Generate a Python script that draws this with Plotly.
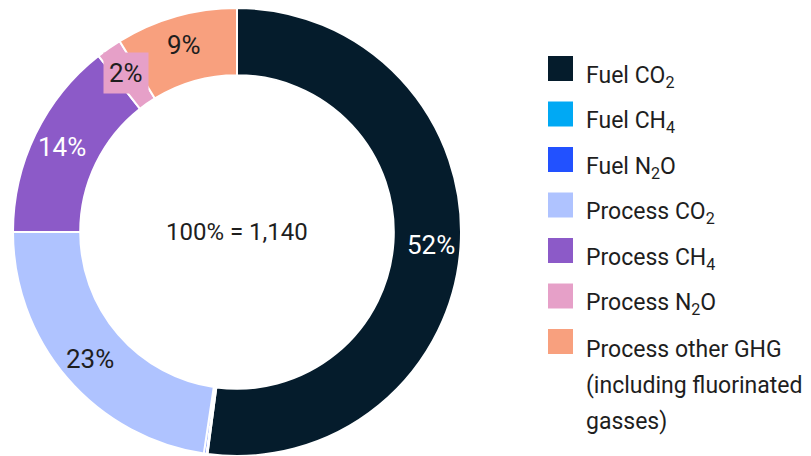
"""Donut com a composição das emissões de GHG (total 1,140)"""

import math
import plotly.graph_objects as go

# Dados
categorias = ["Fuel CO<sub>2</sub>", "Fuel CH<sub>4</sub>", "Fuel N<sub>2</sub>O",
              "Process CO<sub>2</sub>", "Process CH<sub>4</sub>", "Process N<sub>2</sub>O",
              "Process other GHG<br>(including fluorinated<br>gasses)"]
valores = [594, 1, 2, 258, 164, 21, 100]
cores = ["#051c2c", "#00a9f4", "#2251ff", "#afc3ff", "#8c5ac8", "#e6a0c8", "#f8a07e"]
rotulos = ["52%", "", "", "23%", "14%", "2%", "9%"]
cor_rotulo = ["white", None, None, "#1e1e1e", "white", "#1e1e1e", "#1e1e1e"]
total_texto = "100% = 1,140"

# a página html tem margem de 8px no body: a figura ocupa o resto da janela
OFF = 8
W, H = 811 - OFF, 456 - OFF
FONTE = "Roboto"
TXT = "#1e1e1e"


def px(x):
    return (x - OFF) / W


def py(y):
    return 1 - (y - OFF) / H


# geometria do donut (pixels da janela)
cx, cy, R, furo = 237, 232, 224, 0.70

fig = go.Figure(go.Pie(
    labels=categorias,
    values=valores,
    marker=dict(colors=cores, line=dict(color="white", width=2)),
    hole=furo,
    sort=False,
    direction="clockwise",
    rotation=0,
    textinfo="none",
    hoverinfo="label+percent",
    showlegend=False,
    domain=dict(x=[px(cx - R), px(cx + R)], y=[0, 1]),
))

# rótulos de percentagem no meio de cada fatia
total = sum(valores)
acum = 0
r_txt = R * (1 + furo) / 2 + 4
for v, txt, cor, fundo in zip(valores, rotulos, cor_rotulo, cores):
    meio = (acum + v / 2) / total * 2 * math.pi
    acum += v
    if not txt:
        continue
    x_ = cx + r_txt * math.sin(meio)
    y_ = cy - r_txt * math.cos(meio)
    extra = dict(bgcolor=fundo, borderpad=5) if v / total < 0.03 else dict(borderpad=0)
    fig.add_annotation(x=px(x_), y=py(y_), xref="paper", yref="paper",
                       xanchor="center", yanchor="middle",
                       text=txt, showarrow=False,
                       font=dict(family=FONTE, size=26, color=cor), **extra)

# texto central
fig.add_annotation(x=px(cx), y=py(cy), xref="paper", yref="paper",
                   xanchor="center", yanchor="middle",
                   text=total_texto, showarrow=False,
                   font=dict(family=FONTE, size=24, color=TXT))

# legenda manual (quadrados grandes + texto com subscritos)
for i, (nome, cor) in enumerate(zip(categorias, cores)):
    yc = 68.5 + 45.5 * i
    fig.add_shape(type="rect", xref="paper", yref="paper",
                  x0=px(548), x1=px(573), y0=py(yc - 12.5), y1=py(yc + 12.5),
                  fillcolor=cor, line=dict(width=0))
    for j, linha in enumerate(nome.split("<br>")):
        ya = yc + 8 + 36 * j
        fig.add_annotation(x=px(585), y=py(ya), xref="paper", yref="paper",
                           xanchor="left", yanchor="middle", text=linha, showarrow=False,
                           borderpad=0, font=dict(family=FONTE, size=23, color=TXT))

fig.update_layout(
    width=W, height=H,
    margin=dict(l=0, r=0, t=0, b=0),
    paper_bgcolor="white",
    plot_bgcolor="white",
)

fig.write_html("out.html")
